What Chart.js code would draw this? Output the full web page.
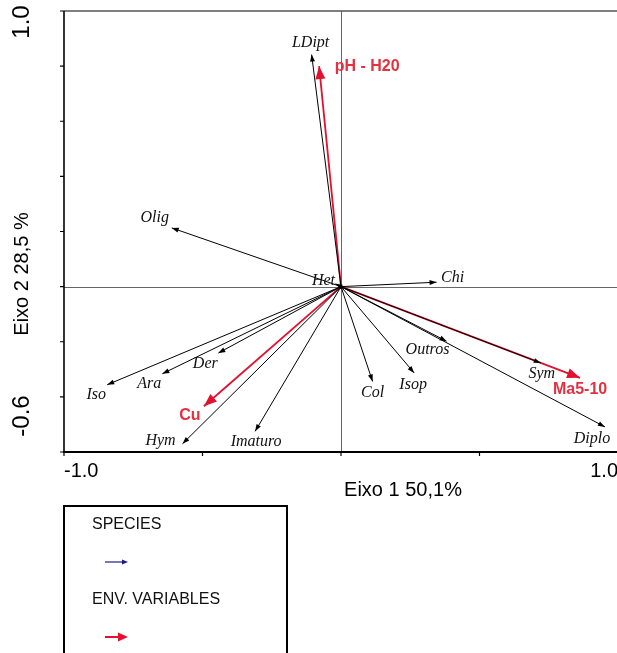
<!DOCTYPE html>
<html>
<head>
<meta charset="utf-8">
<script src="https://cdn.jsdelivr.net/npm/chart.js@4.4.1/dist/chart.umd.min.js"></script>
<style>
  html, body { margin: 0; padding: 0; background: #fff; overflow: hidden; }
  #wrap { width: 625px; height: 653px; }
</style>
</head>
<body>
<div id="wrap"><canvas id="biplot" width="625" height="653"></canvas></div>
<script>
// CCA biplot: species (black) and environmental variables (red)
const speciesNames = ['LDipt', 'Olig', 'Het', 'Chi', 'Iso', 'Ara', 'Der', 'Hym', 'Imaturo', 'Col', 'Isop', 'Outros', 'Sym', 'Diplo'];
const speciesX = [-0.106, -0.611, -0.02, 0.345, -0.844, -0.645, -0.443, -0.572, -0.310, 0.114, 0.264, 0.381, 0.721, 0.953];
const speciesY = [0.842, 0.213, 0.01, 0.016, -0.356, -0.316, -0.241, -0.570, -0.525, -0.344, -0.313, -0.198, -0.277, -0.509];

const envNames = ['pH - H20', 'Cu', 'Ma5-10'];
const envX = [-0.079, -0.495, 0.863];
const envY = [0.80, -0.434, -0.331];

const xTicks = [-1.0, -0.5, 0, 0.5, 1.0];
const yTicks = [-0.6, -0.4, -0.2, 0, 0.2, 0.4, 0.6, 0.8, 1.0];
const xTitle = 'Eixo 1 50,1%';
const yTitle = 'Eixo 2 28,5 %';
const legendItems = ['SPECIES', 'ENV. VARIABLES'];

// label offsets from arrow tip, in px (placement only)
const labelOffset = {
  'LDipt': [-1, -12], 'Olig': [-17, -10], 'Het': [-12, -3], 'Chi': [16, -4],
  'Iso': [-11, 10], 'Ara': [-13, 10], 'Der': [-13, 11], 'Hym': [-22, -3],
  'Imaturo': [1, 10], 'Col': [0, 11], 'Isop': [-1, 12], 'Outros': [-19, 9],
  'Sym': [1, 11], 'Diplo': [-13, 12],
  'pH - H20': [48, 0], 'Cu': [-14, 9], 'Ma5-10': [0, 12]
};

const RED = '#e2112f';
const NAVY = '#1b1b8a';

const datasets = [];
speciesNames.forEach((n, i) => datasets.push({
  label: n, kind: 'species',
  data: [{ x: 0, y: 0 }, { x: speciesX[i], y: speciesY[i] }],
  showLine: true, borderColor: '#000', borderWidth: 1, pointRadius: 0
}));
envNames.forEach((n, i) => datasets.push({
  label: n, kind: 'env',
  data: [{ x: 0, y: 0 }, { x: envX[i], y: envY[i] }],
  showLine: true, borderColor: RED, borderWidth: 1.8, pointRadius: 0
}));

function arrowHead(ctx, x0, y0, x1, y1, len, half, color) {
  const a = Math.atan2(y1 - y0, x1 - x0);
  ctx.save();
  ctx.translate(x1, y1);
  ctx.rotate(a);
  ctx.fillStyle = color;
  ctx.beginPath();
  ctx.moveTo(0, 0);
  ctx.lineTo(-len, -half);
  ctx.lineTo(-len, half);
  ctx.closePath();
  ctx.fill();
  ctx.restore();
}

const frame = {
  id: 'frame',
  beforeDatasetsDraw(chart) {
    const { ctx, chartArea: a, scales: { x, y } } = chart;
    ctx.save();
    // zero lines
    ctx.strokeStyle = '#666';
    ctx.lineWidth = 1;
    const x0 = Math.round(x.getPixelForValue(0)) + 0.5;
    const y0 = Math.round(y.getPixelForValue(0)) + 0.5;
    ctx.beginPath();
    ctx.moveTo(x0, a.top); ctx.lineTo(x0, a.bottom);
    ctx.moveTo(a.left, y0); ctx.lineTo(a.right, y0);
    ctx.stroke();
    // top border
    ctx.strokeStyle = '#555';
    ctx.lineWidth = 1.5;
    ctx.beginPath();
    ctx.moveTo(a.left, a.top); ctx.lineTo(a.right, a.top);
    ctx.stroke();
    // left and bottom axes
    ctx.strokeStyle = '#000';
    ctx.lineWidth = 1.6;
    ctx.beginPath();
    ctx.moveTo(a.left, a.top); ctx.lineTo(a.left, a.bottom);
    ctx.stroke();
    ctx.lineWidth = 2;
    ctx.beginPath();
    ctx.moveTo(a.left - 1, a.bottom); ctx.lineTo(a.right, a.bottom);
    ctx.stroke();
    // ticks
    ctx.lineWidth = 1.2;
    ctx.beginPath();
    yTicks.forEach(v => {
      const py = y.getPixelForValue(v);
      ctx.moveTo(a.left - 4, py); ctx.lineTo(a.left, py);
    });
    xTicks.forEach(v => {
      const px = x.getPixelForValue(v);
      ctx.moveTo(px, a.bottom); ctx.lineTo(px, a.bottom + 4);
    });
    ctx.stroke();
    ctx.restore();
  },
  afterDatasetsDraw(chart) {
    const { ctx, chartArea: a, scales: { x, y } } = chart;
    ctx.save();
    // arrow heads and labels
    chart.data.datasets.forEach(ds => {
      const p0 = ds.data[0], p1 = ds.data[1];
      const px0 = x.getPixelForValue(p0.x), py0 = y.getPixelForValue(p0.y);
      const px1 = x.getPixelForValue(p1.x), py1 = y.getPixelForValue(p1.y);
      const env = ds.kind === 'env';
      arrowHead(ctx, px0, py0, px1, py1, env ? 13 : 7, env ? 5 : 2.5, env ? RED : '#000');
      const off = labelOffset[ds.label] || [0, 0];
      ctx.textAlign = 'center';
      ctx.textBaseline = 'middle';
      if (env) {
        ctx.font = 'bold 16px "Liberation Sans", Arial, sans-serif';
        ctx.fillStyle = '#e5303f';
      } else {
        ctx.font = 'italic 16px "Liberation Serif", "Times New Roman", serif';
        ctx.fillStyle = '#111';
      }
      ctx.fillText(ds.label, px1 + off[0], py1 + off[1]);
    });

    // tick labels
    ctx.fillStyle = '#000';
    ctx.font = '20px "Liberation Sans", Arial, sans-serif';
    ctx.textBaseline = 'middle';
    ctx.textAlign = 'left';
    ctx.fillText(xTicks[0].toFixed(1), x.getPixelForValue(xTicks[0]), a.bottom + 19);
    ctx.textAlign = 'right';
    ctx.fillText(xTicks[xTicks.length - 1].toFixed(1), x.getPixelForValue(xTicks[xTicks.length - 1]), a.bottom + 19);
    ctx.textAlign = 'center';
    ctx.fillText(xTitle, 403, a.bottom + 38);

    ctx.save();
    ctx.translate(22, 0);
    ctx.rotate(-Math.PI / 2);
    ctx.font = '24px "Liberation Sans", Arial, sans-serif';
    ctx.textAlign = 'center';
    ctx.fillText(yTicks[yTicks.length - 1].toFixed(1), -(y.getPixelForValue(1.0) + 11), 0);
    ctx.fillText(yTicks[0].toFixed(1), -(y.getPixelForValue(-0.6) - 36), 0);
    ctx.font = '20px "Liberation Sans", Arial, sans-serif';
    ctx.fillText(yTitle, -274, 0);
    ctx.restore();

    // legend box
    const lx = a.left, ly = a.bottom + 54;
    ctx.strokeStyle = '#000';
    ctx.lineWidth = 2;
    ctx.strokeRect(lx, ly, 223, 200);
    ctx.font = '16px "Liberation Sans", Arial, sans-serif';
    ctx.fillStyle = '#111';
    ctx.textAlign = 'left';
    ctx.textBaseline = 'middle';
    ctx.fillText(legendItems[0], lx + 28, ly + 19);
    ctx.fillText(legendItems[1], lx + 28, ly + 94);
    // legend arrows
    ctx.lineWidth = 1.2;
    ctx.strokeStyle = NAVY;
    ctx.beginPath();
    ctx.moveTo(lx + 41, ly + 56); ctx.lineTo(lx + 60, ly + 56);
    ctx.stroke();
    arrowHead(ctx, lx + 41, ly + 56, lx + 64, ly + 56, 6, 2.5, NAVY);
    ctx.lineWidth = 2;
    ctx.strokeStyle = RED;
    ctx.beginPath();
    ctx.moveTo(lx + 41, ly + 131); ctx.lineTo(lx + 56, ly + 131);
    ctx.stroke();
    arrowHead(ctx, lx + 41, ly + 131, lx + 64, ly + 131, 10, 4.5, RED);
    ctx.restore();
  }
};

new Chart(document.getElementById('biplot').getContext('2d'), {
  type: 'scatter',
  data: { datasets: datasets },
  options: {
    responsive: false,
    animation: false,
    layout: { padding: { left: 64, top: 11, right: 7, bottom: 201 } },
    scales: {
      x: { type: 'linear', min: -1.0, max: 1.0, display: false },
      y: { type: 'linear', min: -0.6, max: 1.0, display: false }
    },
    plugins: { legend: { display: false }, tooltip: { enabled: false } }
  },
  plugins: [frame]
});
</script>
</body>
</html>
